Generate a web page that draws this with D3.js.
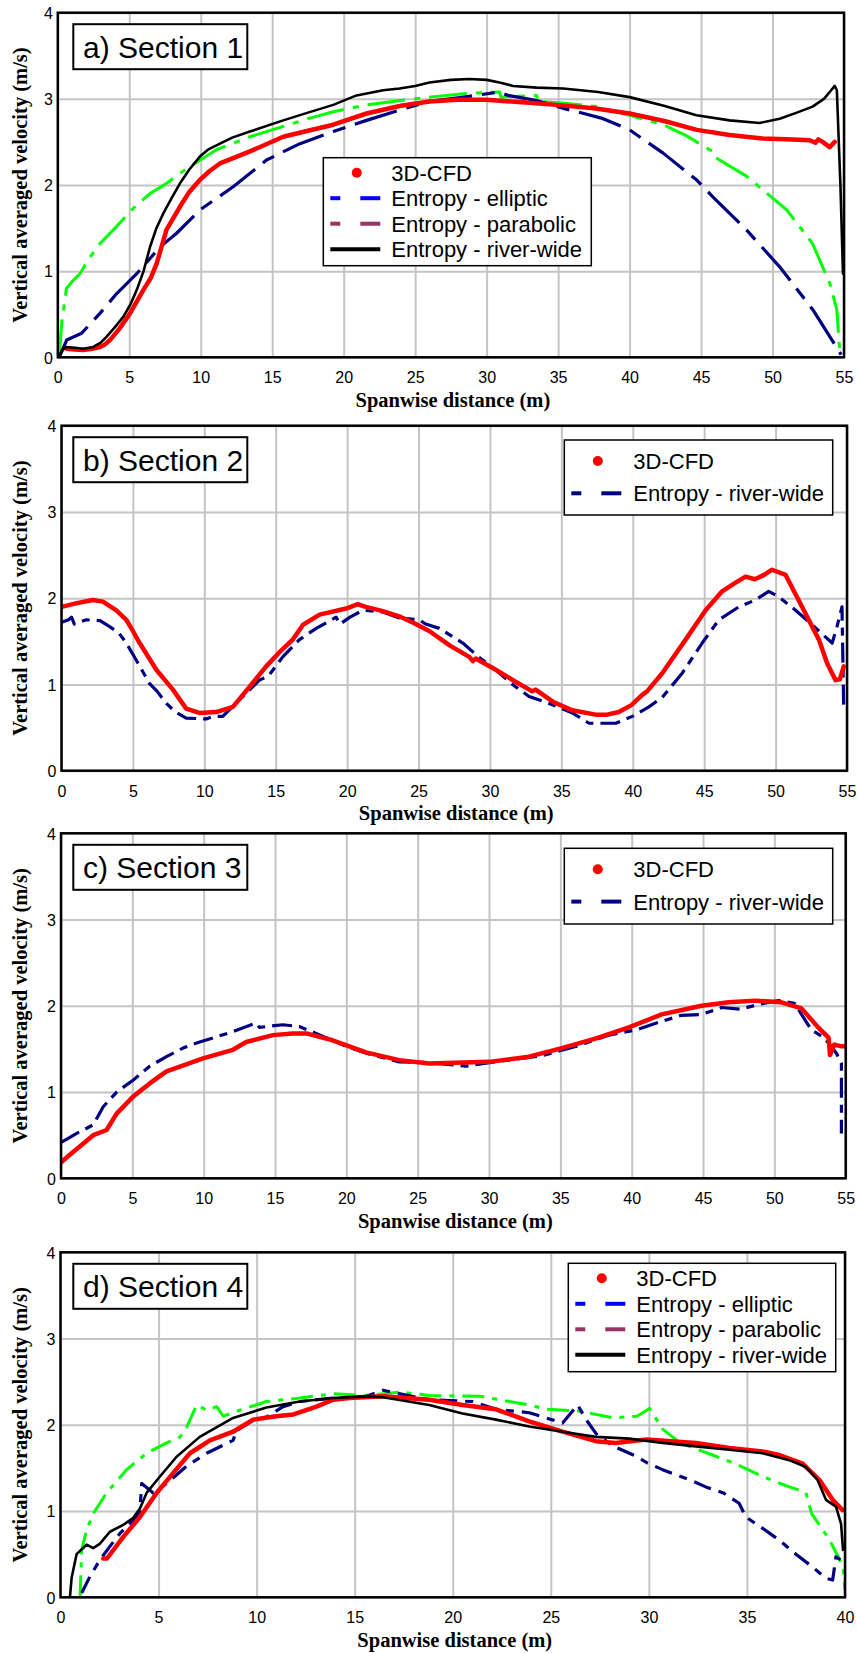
<!DOCTYPE html>
<html><head><meta charset="utf-8">
<script src="https://cdn.jsdelivr.net/npm/d3@7"></script>
<style>body{margin:0;background:#fff}svg{display:block}</style>
</head><body>
<svg id="c" width="858" height="1653"></svg>
<script>
// ---------------- DATA ----------------
const yTicks = [0, 1, 2, 3, 4];
const xTicks55 = [0, 5, 10, 15, 20, 25, 30, 35, 40, 45, 50, 55];
const xTicks40 = [0, 5, 10, 15, 20, 25, 30, 35, 40];
const panelTitles = ["a) Section 1", "b) Section 2", "c) Section 3", "d) Section 4"];
const legendFull = ["3D-CFD", "Entropy - elliptic", "Entropy - parabolic", "Entropy - river-wide"];
const legendShort = ["3D-CFD", "Entropy - river-wide"];
const xTitle = "Spanwise distance (m)";
const yTitle = "Vertical averaged velocity (m/s)";

// Section 1
const a_cfd = [[0.62,0.10],[1.2,0.09],[1.78,0.085],[2.4,0.1],[2.95,0.12],[3.3,0.15],[3.65,0.2],[4.3,0.33],[5.05,0.51],[5.98,0.78],[6.5,0.92],[6.92,1.09],[7.2,1.25],[7.6,1.48],[8.55,1.75],[9.2,1.92],[9.94,2.06],[10.6,2.16],[11.34,2.25],[12.4,2.32],[13.44,2.39],[15.77,2.56],[17.5,2.63],[19.27,2.70],[21.6,2.83],[24,2.92],[26.0,2.97],[28,2.99],[30,2.99],[32.5,2.96],[34.9,2.93],[37.5,2.89],[40.0,2.83],[42.5,2.74],[44.7,2.64],[47,2.58],[49.3,2.54],[51,2.53],[52.6,2.52],[53.0,2.49],[53.2,2.53],[53.5,2.50],[54.0,2.44],[54.35,2.50]];
const a_ell = [[0.1,0],[0.62,0.2],[1.67,0.28],[2.95,0.51],[4.12,0.74],[5.52,0.97],[7.15,1.28],[8.31,1.44],[9.94,1.71],[12.27,1.98],[14.6,2.29],[16.94,2.48],[19.27,2.62],[21.6,2.75],[23.9,2.87],[26,2.97],[28.4,3.02],[30.9,3.08],[31.5,3.04],[33.5,2.98],[35.35,2.89],[36.8,2.83],[38.15,2.77],[40,2.64],[42.35,2.37],[44.68,2.06],[45.84,1.86],[48.17,1.48],[50.5,1.05],[52.83,0.55],[54.8,0.03]];
const a_para = [[0.1,0],[0.3,0.45],[0.5,0.66],[0.6,0.8],[0.73,0.82],[1.0,0.88],[1.55,0.97],[2.2,1.15],[2.95,1.32],[4.12,1.52],[5.28,1.73],[6.45,1.90],[7.62,2.02],[9.0,2.19],[11.1,2.41],[13.44,2.56],[15.77,2.68],[17.5,2.77],[19.27,2.85],[21.6,2.93],[24,2.98],[26,3.02],[28.4,3.06],[30.9,3.08],[31.0,3.02],[33.5,3.04],[33.6,2.97],[35.5,2.95],[37.7,2.91],[40,2.81],[42.35,2.70],[44,2.57],[45.8,2.39],[45.9,2.33],[48.2,2.10],[51.0,1.71],[52.8,1.32],[54.0,0.86],[54.5,0.55],[54.7,0.08]];
const a_river = [[0.04,0],[0.3,0.08],[0.62,0.12],[1.2,0.11],[1.78,0.10],[2.48,0.12],[3.0,0.17],[3.42,0.24],[4.0,0.35],[4.58,0.47],[5.1,0.62],[5.52,0.78],[6.0,1.0],[6.45,1.28],[6.9,1.5],[7.38,1.67],[8.0,1.86],[8.55,2.02],[9.2,2.18],[9.94,2.33],[10.5,2.41],[11.1,2.46],[12.2,2.55],[13.44,2.62],[15.77,2.75],[17.5,2.84],[19.27,2.93],[20.9,3.04],[22.76,3.10],[23.9,3.12],[25,3.15],[26.0,3.19],[27.5,3.22],[28.8,3.23],[30,3.22],[30.9,3.19],[31.85,3.15],[33.5,3.13],[35.35,3.12],[37.8,3.08],[40.0,3.02],[42.4,2.92],[44.68,2.81],[47,2.75],[49.1,2.72],[50.5,2.77],[51.7,2.84],[52.8,2.91],[53.6,3.0],[54.1,3.1],[54.35,3.15],[54.5,3.1],[54.75,2.0],[54.93,0.97]];

// Section 2
const b_cfd = [[0,1.90],[1.0,1.94],[2.2,1.98],[2.9,1.96],[3.84,1.86],[4.54,1.75],[5.0,1.62],[5.47,1.48],[6.64,1.17],[7.8,0.94],[8.73,0.72],[9.66,0.67],[10.83,0.68],[12.0,0.74],[13.16,0.97],[14.33,1.21],[15.3,1.38],[16.19,1.52],[16.9,1.69],[18.07,1.81],[19.92,1.88],[20.75,1.93],[21.3,1.90],[22.5,1.85],[23.65,1.79],[24.7,1.71],[25.75,1.62],[27.2,1.45],[28.55,1.32],[28.8,1.27],[29.0,1.30],[30.4,1.17],[31.7,1.04],[32.97,0.92],[33.2,0.94],[34.4,0.80],[35.77,0.70],[37.4,0.65],[38.2,0.65],[39.03,0.68],[39.9,0.76],[40.66,0.88],[41.0,0.92],[42.06,1.13],[43.7,1.52],[45.1,1.86],[46.26,2.08],[47.2,2.18],[47.9,2.25],[48.55,2.22],[49.2,2.27],[49.75,2.33],[50.7,2.27],[51.85,1.90],[53.03,1.52],[53.6,1.25],[54.2,1.05],[54.5,1.06],[54.77,1.21]];
const b_river = [[0,1.72],[0.5,1.75],[0.7,1.78],[0.9,1.70],[1.74,1.75],[2.7,1.74],[3.37,1.67],[4.0,1.60],[4.54,1.48],[5.24,1.28],[6.17,1.01],[6.7,0.92],[7.34,0.78],[8.0,0.68],[8.73,0.61],[10.13,0.60],[10.6,0.63],[11.29,0.63],[12.46,0.82],[13.86,1.05],[14.5,1.10],[15.49,1.32],[16.66,1.52],[17.83,1.65],[19.23,1.78],[19.5,1.70],[20.2,1.78],[21.1,1.86],[22.5,1.84],[23.65,1.77],[25.05,1.75],[25.5,1.70],[26.45,1.65],[28.1,1.48],[29.2,1.32],[30.4,1.17],[31.5,1.01],[32.74,0.86],[34.14,0.78],[35.77,0.67],[36.94,0.55],[38.8,0.55],[39.97,0.63],[41.13,0.74],[42.06,0.85],[43.46,1.13],[44.86,1.48],[46.03,1.75],[47.43,1.90],[48.6,1.98],[49.52,2.08],[50.2,2.02],[51.4,1.86],[52.57,1.69],[53.96,1.48],[54.3,1.67],[54.65,1.90],[54.77,0.70]];

// Section 3
const c_cfd = [[0.05,0.19],[0.6,0.27],[1.4,0.38],[2.26,0.50],[3.2,0.56],[3.9,0.75],[5.07,0.95],[6.22,1.10],[7.39,1.24],[8.78,1.32],[9.95,1.39],[12.05,1.49],[12.98,1.58],[14.85,1.66],[16.24,1.68],[17.2,1.68],[19.04,1.60],[21.38,1.46],[23.7,1.37],[25.8,1.33],[30,1.35],[32.8,1.41],[35.1,1.51],[37.45,1.62],[39.8,1.75],[42.1,1.90],[44.9,2.00],[46.8,2.04],[48.65,2.06],[50.5,2.04],[51.9,1.97],[53.07,1.75],[53.8,1.63],[53.9,1.43],[54.2,1.55],[54.7,1.53],[55,1.53]];
const c_river = [[0.05,0.42],[1.1,0.52],[2.26,0.62],[2.96,0.83],[3.9,1.0],[5.07,1.14],[6.22,1.30],[7.39,1.41],[8.55,1.51],[9.72,1.58],[10.89,1.64],[12.05,1.70],[13.68,1.80],[13.9,1.75],[15.55,1.78],[16.7,1.76],[17.88,1.68],[19.0,1.60],[19.98,1.53],[21.4,1.45],[22.8,1.39],[23.7,1.35],[25.8,1.34],[28.4,1.30],[30.4,1.35],[33.7,1.42],[36.3,1.54],[38.4,1.66],[40.3,1.72],[42.1,1.82],[43.5,1.89],[44.9,1.90],[46.3,1.98],[47.6,1.96],[49.0,2.02],[50.3,2.06],[51.4,2.03],[52.6,1.72],[53.5,1.63],[54.35,1.45],[54.7,1.33],[54.7,0.52]];

// Section 4
const d_cfd = [[2.18,0.45],[2.37,0.45],[3.2,0.70],[4.05,0.93],[4.9,1.21],[5.74,1.44],[6.6,1.67],[7.62,1.82],[8.8,1.92],[9.82,2.06],[11.0,2.10],[11.88,2.12],[13.05,2.21],[13.9,2.29],[14.75,2.31],[16.45,2.33],[18.8,2.29],[20.5,2.23],[22.2,2.18],[23.9,2.04],[25.6,1.92],[27.3,1.81],[28.3,1.79],[29.86,1.83],[32.4,1.79],[34.1,1.73],[35.8,1.69],[36.66,1.65],[37.84,1.55],[38.7,1.36],[39.37,1.13],[39.88,1.01]];
const d_ell = [[1.08,0.05],[1.5,0.24],[2.0,0.43],[2.52,0.59],[3.03,0.74],[3.7,0.89],[4.05,1.00],[4.14,1.32],[4.73,1.21],[5.41,1.32],[6.43,1.52],[7.45,1.67],[8.8,1.82],[8.97,1.93],[9.82,2.05],[10.5,2.09],[11.35,2.21],[12.2,2.27],[13.9,2.31],[15.6,2.33],[16.45,2.40],[18.8,2.29],[21.0,2.27],[22.2,2.18],[23.9,2.14],[25.6,2.02],[26.37,2.23],[26.8,2.06],[27.3,1.90],[28.2,1.75],[29.4,1.63],[29.9,1.56],[30.7,1.48],[32.1,1.36],[32.9,1.28],[33.8,1.21],[34.6,1.09],[34.95,0.93],[35.8,0.80],[36.66,0.66],[37.5,0.50],[38.35,0.35],[39.03,0.22],[39.37,0.20],[39.54,0.47],[39.8,0.43]];
const d_para = [[1.0,0],[1.08,0.55],[1.33,0.78],[1.67,0.97],[2.35,1.21],[3.37,1.48],[4.39,1.67],[5.41,1.79],[6.1,1.86],[6.43,1.97],[6.94,2.23],[7.45,2.17],[7.96,2.21],[8.3,2.10],[9.15,2.17],[10.5,2.27],[12.2,2.31],[13.9,2.36],[15.6,2.34],[17.3,2.38],[18.8,2.34],[21.4,2.33],[23.9,2.23],[24.75,2.18],[26.45,2.16],[28.2,2.08],[29.4,2.10],[30.03,2.19],[30.7,1.95],[31.6,1.79],[33.25,1.65],[34.4,1.55],[35.8,1.40],[37.16,1.28],[38.0,1.22],[38.3,0.97],[39.2,0.67],[39.9,0.36],[40,0.08]];
const d_river = [[0.48,0],[0.57,0.23],[0.82,0.5],[1.33,0.61],[1.67,0.57],[2.0,0.62],[2.52,0.76],[3.2,0.84],[3.7,0.92],[4.05,1.03],[4.39,1.21],[5.07,1.40],[5.92,1.63],[7.1,1.86],[8.8,2.08],[10.5,2.20],[12.2,2.27],[13.9,2.31],[15.6,2.33],[16.45,2.32],[18.8,2.23],[20.5,2.13],[22.2,2.06],[23.9,1.98],[25.6,1.92],[27.3,1.86],[29.0,1.84],[30.7,1.79],[32.4,1.75],[34.1,1.71],[35.8,1.67],[37.16,1.59],[38.0,1.51],[38.6,1.36],[39.03,1.13],[39.54,1.05],[39.8,0.85],[39.9,0.55]];

// ---------------- STYLES / LAYOUT ----------------
const RED = "#ff0000", NAVY = "#000080", GREEN = "#00ff00", BLACK = "#000000";
const BLUE = "#0000ff", PURPLE = "#993366";

const panels = [
  { title: panelTitles[0], xmax: 55, ticks: xTicks55, box: [57.8, 12.7, 844, 357.3],
    series: [
      { data: a_para, color: GREEN, w: 3, dash: "38,9,6,9" },
      { data: a_ell, color: NAVY, w: 3.2, dash: "44,10,13,10" },
      { data: a_cfd, color: RED, w: 4.5, dash: null },
      { data: a_river, color: BLACK, w: 2.6, dash: null }],
    legend: { box: [323.3, 157.7, 268, 108], full: true } },
  { title: panelTitles[1], xmax: 55, ticks: xTicks55, box: [61.5, 425.7, 847, 770.7],
    series: [
      { data: b_river, color: NAVY, w: 3.2, dash: "20,7,8,7" },
      { data: b_cfd, color: RED, w: 4.5, dash: null }],
    legend: { box: [564.3, 440, 268.4, 75], full: false } },
  { title: panelTitles[2], xmax: 55, ticks: xTicks55, box: [61, 833.3, 845.7, 1178.3],
    series: [
      { data: c_river, color: NAVY, w: 3.2, dash: "20,7,8,7" },
      { data: c_cfd, color: RED, w: 4.5, dash: null }],
    legend: { box: [564.3, 848.3, 268.4, 75.7], full: false } },
  { title: panelTitles[3], xmax: 40, ticks: xTicks40, box: [60.5, 1252.3, 845, 1597.3],
    series: [
      { data: d_para, color: GREEN, w: 3, dash: "22,8,5,8" },
      { data: d_ell, color: NAVY, w: 3.2, dash: "18,8,8,8" },
      { data: d_cfd, color: RED, w: 4.5, dash: null },
      { data: d_river, color: BLACK, w: 2.6, dash: null }],
    legend: { box: [568.3, 1263.3, 267.4, 108.4], full: true } }
];

const svg = d3.select("#c");
const SANS = "'Liberation Sans', Arial, sans-serif";
const SERIF = "'Liberation Serif', 'Times New Roman', serif";

panels.forEach((p, i) => {
  const [L, T, R, B] = p.box;
  const x = d3.scaleLinear().domain([0, p.xmax]).range([L, R]);
  const y = d3.scaleLinear().domain([0, 4]).range([B, T]);
  const g = svg.append("g");

  // grid
  const gx = g.append("g").attr("transform", `translate(0,${B})`)
    .call(d3.axisBottom(x).tickValues(p.ticks).tickSize(-(B - T)).tickFormat(""));
  gx.select(".domain").remove();
  gx.selectAll("line").attr("stroke", "#c4c4c4").attr("stroke-width", 2);
  const gy = g.append("g").attr("transform", `translate(${L},0)`)
    .call(d3.axisLeft(y).tickValues(yTicks).tickSize(-(R - L)).tickFormat(""));
  gy.select(".domain").remove();
  gy.selectAll("line").attr("stroke", "#c4c4c4").attr("stroke-width", 2);

  // tick labels
  const xl = g.append("g").attr("transform", `translate(0,${B})`)
    .call(d3.axisBottom(x).tickValues(p.ticks).tickSize(0).tickPadding(0).tickFormat(d3.format("d")));
  xl.select(".domain").remove();
  xl.selectAll("text").attr("y", 26).attr("dy", null)
    .attr("font-family", SANS).attr("font-size", 16).attr("fill", "#000");
  const yl = g.append("g").attr("transform", `translate(${L},0)`)
    .call(d3.axisLeft(y).tickValues(yTicks).tickSize(0).tickPadding(5).tickFormat(d3.format("d")));
  yl.select(".domain").remove();
  yl.selectAll("text").attr("dy", "0.36em")
    .attr("font-family", SANS).attr("font-size", 16).attr("fill", "#000");

  // clip
  const cid = "clip" + i;
  svg.append("clipPath").attr("id", cid).append("rect")
    .attr("x", L).attr("y", T - 2).attr("width", R - L).attr("height", B - T + 2);

  const line = d3.line().x(d => x(d[0])).y(d => y(d[1]));
  const lg = g.append("g").attr("clip-path", `url(#${cid})`);
  p.series.forEach(s => {
    lg.append("path").attr("d", line(s.data)).attr("fill", "none")
      .attr("stroke", s.color).attr("stroke-width", s.w)
      .attr("stroke-linejoin", "round").attr("stroke-linecap", s.dash ? "butt" : "round")
      .attr("stroke-dasharray", s.dash);
  });

  // frame
  g.append("rect").attr("x", L).attr("y", T).attr("width", R - L).attr("height", B - T)
    .attr("fill", "none").attr("stroke", "#000").attr("stroke-width", 2.5);

  // section label
  g.append("rect").attr("x", 73.3).attr("y", T + 11.5).attr("width", 174).attr("height", 45)
    .attr("fill", "#fff").attr("stroke", "#000").attr("stroke-width", 2);
  g.append("text").attr("x", 83).attr("y", T + 45).text(p.title)
    .attr("font-family", SANS).attr("font-size", 30).attr("fill", "#000");

  // legend
  const [lx, ly, lw, lh] = p.legend.box;
  const leg = g.append("g");
  leg.append("rect").attr("x", lx).attr("y", ly).attr("width", lw).attr("height", lh)
    .attr("fill", "#fff").attr("stroke", "#000").attr("stroke-width", 1.5);
  let entries;
  if (p.legend.full) {
    entries = [
      { label: legendFull[0], type: "dot", color: RED },
      { label: legendFull[1], type: "dash", color: BLUE },
      { label: legendFull[2], type: "dash", color: PURPLE },
      { label: legendFull[3], type: "solid", color: BLACK }];
  } else {
    entries = [
      { label: legendShort[0], type: "dot", color: RED },
      { label: legendShort[1], type: "dash", color: NAVY }];
  }
  const rowGap = p.legend.full ? 25.5 : 32.3;
  const row0 = p.legend.full ? 15 : 21;
  const textX = p.legend.full ? 68 : 69;
  entries.forEach((e, k) => {
    const cy = ly + row0 + k * rowGap;
    if (e.type === "dot") {
      leg.append("circle").attr("cx", lx + 33.5).attr("cy", cy).attr("r", 5).attr("fill", e.color);
    } else if (e.type === "dash") {
      leg.append("line").attr("x1", lx + 7).attr("x2", lx + 17).attr("y1", cy).attr("y2", cy)
        .attr("stroke", e.color).attr("stroke-width", 4);
      leg.append("line").attr("x1", lx + 37).attr("x2", lx + 57).attr("y1", cy).attr("y2", cy)
        .attr("stroke", e.color).attr("stroke-width", 4);
    } else {
      leg.append("line").attr("x1", lx + 7).attr("x2", lx + 57).attr("y1", cy).attr("y2", cy)
        .attr("stroke", e.color).attr("stroke-width", 4);
    }
    leg.append("text").attr("x", lx + textX).attr("y", cy + 8).text(e.label)
      .attr("font-family", SANS).attr("font-size", 22).attr("fill", "#000");
  });

  // axis titles
  g.append("text").attr("x", (L + R) / 2 + 2).attr("y", B + 49.4).attr("text-anchor", "middle")
    .text(xTitle).attr("font-family", SERIF).attr("font-weight", "bold").attr("font-size", 20.5);
  g.append("text").attr("transform", `translate(27,${(T + B) / 2}) rotate(-90)`)
    .attr("text-anchor", "middle").text(yTitle)
    .attr("font-family", SERIF).attr("font-weight", "bold").attr("font-size", 20.5);
});
</script>
</body></html>
